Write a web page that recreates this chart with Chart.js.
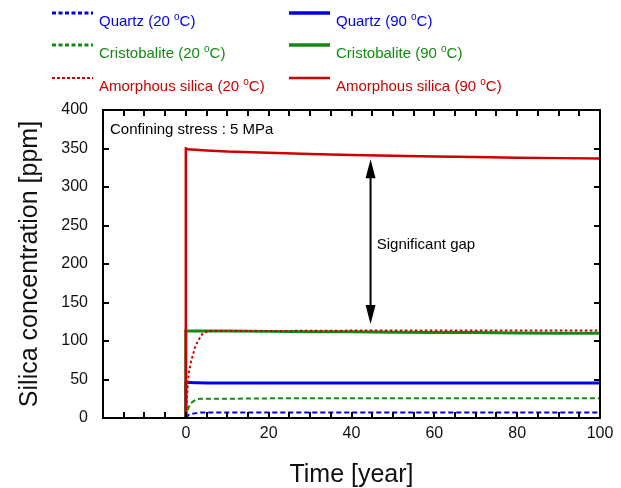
<!DOCTYPE html>
<html>
<head>
<meta charset="utf-8">
<script src="https://cdn.jsdelivr.net/npm/chart.js@4.4.0/dist/chart.umd.min.js"></script>
<style>
  body { margin: 0; background: #fff; font-family: Arial, "Liberation Sans", sans-serif; }
  #wrap { position: relative; width: 621px; height: 488px; }
  #chart { position: absolute; left: 0; top: 0; }
  .lg-line { position: absolute; }
  .lg-text { position: absolute; font-size: 15px; line-height: 17px; white-space: nowrap; }
  .deg { font-size: 10px; position: relative; top: -6px; }
</style>
</head>
<body>
<div id="wrap">
  <canvas id="chart" width="621" height="488"></canvas>
  <div id="legend"></div>
</div>
<script>
// 90 oC runs (jump at t = 0)
var timeHot = [0, 0, 0.5, 5, 10, 20, 30, 40, 50, 60, 70, 80, 90, 100];
var amorphousHot = [0, 350, 349, 347.5, 346, 344.5, 343, 341.5, 340.5, 339.5, 338.8, 338, 337.5, 337];
var cristobaliteHot = [0, 113, 113, 113, 113, 112.5, 112, 112, 111.5, 111, 111, 110.5, 110, 110];
var quartzHot = [0, 46, 46, 45.5, 45.5, 45.5, 45.5, 45.5, 45.5, 45.5, 45.5, 45.5, 45.5, 45.5];

// 20 oC runs (gradual rise)
var timeCold = [0, 0.3, 0.7, 1.2, 1.6, 2.2, 2.8, 3.5, 4.1, 5, 6, 8, 10, 20, 40, 60, 80, 100];
var amorphousCold = [0, 30, 58, 72, 80, 91, 99, 105, 110, 112, 113, 113, 113, 113, 113.5, 113.5, 113.5, 113.5];
var cristobaliteCold = [0, 8, 14, 19, 21, 23, 24.5, 25, 25, 25, 25, 25, 25, 25.5, 25.5, 25.5, 25.5, 25.5];
var quartzCold = [0, 2, 4, 5, 5.5, 6, 6.5, 7, 7, 7, 7, 7, 7, 7, 7, 7, 7, 7];

var xMin = -20, xMax = 100, xMinorStep = 5, xLabelStep = 20;
var yMin = 0, yMax = 400, yStep = 50;

var BLUE = "#0000e6", GREEN = "#128a12", RED = "#cc0000";

var legendItems = [
  { name: "Quartz", temp: "20", color: BLUE, dash: [4, 2.5], width: 3, col: 0, row: 0 },
  { name: "Cristobalite", temp: "20", color: GREEN, dash: [4, 2.5], width: 3, col: 0, row: 1 },
  { name: "Amorphous silica", temp: "20", color: RED, dash: [3, 2], width: 2, col: 0, row: 2 },
  { name: "Quartz", temp: "90", color: BLUE, dash: [], width: 3.5, col: 1, row: 0 },
  { name: "Cristobalite", temp: "90", color: GREEN, dash: [], width: 3.5, col: 1, row: 1 },
  { name: "Amorphous silica", temp: "90", color: RED, dash: [], width: 2.5, col: 1, row: 2 }
];

function toPoints(xs, ys) {
  var out = [];
  for (var i = 0; i < xs.length; i++) out.push({ x: xs[i], y: ys[i] });
  return out;
}

function buildLegend() {
  var colX = [52, 289];
  var rowY = [13, 45, 78];
  var html = "";
  for (var i = 0; i < legendItems.length; i++) {
    var it = legendItems[i];
    var lx = colX[it.col], ly = rowY[it.row];
    html += '<svg class="lg-line" style="left:' + lx + 'px;top:' + (ly - 5) + 'px" width="42" height="10">' +
      '<line x1="0" y1="5" x2="41" y2="5" stroke="' + it.color + '" stroke-width="' + it.width + '"' +
      (it.dash.length ? ' stroke-dasharray="' + it.dash.join(",") + '"' : '') + '/></svg>';
    html += '<div class="lg-text" style="left:' + (lx + 47) + 'px;top:' + (ly - 1) + 'px;color:' + it.color + '">' +
      it.name + ' (' + it.temp + ' <span class="deg">o</span>C)</div>';
  }
  document.getElementById("legend").innerHTML = html;
}

// frame, inward ticks and annotations
var framePlugin = {
  id: "frame",
  afterDatasetsDraw: function (chart) {
    var ctx = chart.ctx, a = chart.chartArea;
    var sx = chart.scales.x, sy = chart.scales.y;
    var v, p;
    ctx.save();
    ctx.strokeStyle = "#000";
    ctx.lineWidth = 2;
    ctx.beginPath();
    for (v = xMin; v <= xMax; v += xMinorStep) {
      p = Math.round(sx.getPixelForValue(v));
      ctx.moveTo(p, a.bottom); ctx.lineTo(p, a.bottom - 6);
      ctx.moveTo(p, a.top); ctx.lineTo(p, a.top + 6);
    }
    for (v = yMin; v <= yMax; v += yStep) {
      p = Math.round(sy.getPixelForValue(v));
      ctx.moveTo(a.left, p); ctx.lineTo(a.left + 6, p);
      ctx.moveTo(a.right, p); ctx.lineTo(a.right - 6, p);
    }
    ctx.stroke();
    ctx.strokeRect(a.left, a.top, a.right - a.left, a.bottom - a.top);

    ctx.fillStyle = "#000";
    ctx.font = "15px Arial, 'Liberation Sans', sans-serif";
    ctx.textBaseline = "middle";
    ctx.textAlign = "left";
    ctx.fillText("Confining stress : 5 MPa", sx.getPixelForValue(-18.3), sy.getPixelForValue(374));
    ctx.fillText("Significant gap", sx.getPixelForValue(46.1), sy.getPixelForValue(225));

    var ax = sx.getPixelForValue(44.6);
    var top = sy.getPixelForValue(336), bot = sy.getPixelForValue(122);
    ctx.beginPath();
    ctx.moveTo(ax, top + 10); ctx.lineTo(ax, bot - 10);
    ctx.stroke();
    ctx.beginPath();
    ctx.moveTo(ax, top); ctx.lineTo(ax - 5, top + 19); ctx.lineTo(ax + 5, top + 19); ctx.closePath();
    ctx.moveTo(ax, bot); ctx.lineTo(ax - 5, bot - 19); ctx.lineTo(ax + 5, bot - 19); ctx.closePath();
    ctx.fill();
    ctx.restore();
  }
};

function makeSet(label, xs, ys, color, width, dash) {
  return {
    label: label,
    data: toPoints(xs, ys),
    borderColor: color,
    backgroundColor: color,
    borderWidth: width,
    borderDash: dash,
    pointRadius: 0,
    tension: 0,
    fill: false
  };
}

buildLegend();

new Chart(document.getElementById("chart"), {
  type: "line",
  data: {
    datasets: [
      makeSet("Amorphous silica (90 oC)", timeHot, amorphousHot, RED, 2.5, []),
      makeSet("Amorphous silica (20 oC)", timeCold, amorphousCold, RED, 2, [2.5, 2.5]),
      makeSet("Cristobalite (90 oC)", timeHot, cristobaliteHot, GREEN, 3, []),
      makeSet("Cristobalite (20 oC)", timeCold, cristobaliteCold, GREEN, 2, [5, 3]),
      makeSet("Quartz (90 oC)", timeHot, quartzHot, BLUE, 3, []),
      makeSet("Quartz (20 oC)", timeCold, quartzCold, BLUE, 2, [5, 3])
    ]
  },
  options: {
    responsive: false,
    animation: false,
    layout: { padding: { left: 0, top: 110, right: 21, bottom: 0 } },
    plugins: { legend: { display: false }, tooltip: { enabled: false } },
    scales: {
      x: {
        type: "linear",
        min: xMin,
        max: xMax,
        grid: { display: false, drawTicks: false },
        border: { display: false },
        ticks: {
          stepSize: xLabelStep,
          autoSkip: false,
          maxRotation: 0,
          padding: 6,
          color: "#111",
          font: { family: "Arial, 'Liberation Sans', sans-serif", size: 16 },
          callback: function (v) { return v >= 0 ? v : ""; }
        },
        title: {
          display: true,
          text: "Time [year]",
          color: "#111",
          font: { family: "Arial, 'Liberation Sans', sans-serif", size: 25, lineHeight: 1 },
          padding: { top: 0, bottom: 0 }
        },
        afterFit: function (s) { s.height = 70; }
      },
      y: {
        type: "linear",
        min: yMin,
        max: yMax,
        grid: { display: false, drawTicks: false },
        border: { display: false },
        ticks: {
          stepSize: yStep,
          padding: 15,
          color: "#111",
          font: { family: "Arial, 'Liberation Sans', sans-serif", size: 16 }
        },
        title: {
          display: true,
          text: "Silica concentration [ppm]",
          color: "#111",
          font: { family: "Arial, 'Liberation Sans', sans-serif", size: 25, lineHeight: 1 },
          padding: { top: 18, bottom: 0 }
        },
        afterFit: function (s) { s.width = 103; }
      }
    }
  },
  plugins: [framePlugin]
});
</script>
</body>
</html>
